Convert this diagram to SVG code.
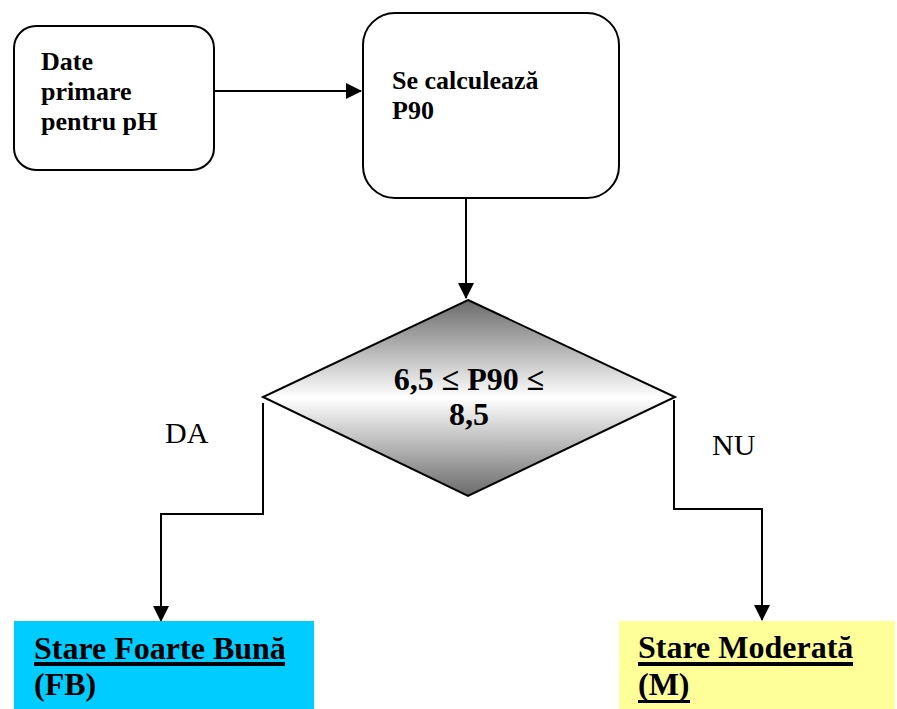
<svg xmlns="http://www.w3.org/2000/svg" width="897" height="709" viewBox="0 0 897 709">
<defs>
<linearGradient id="gd" x1="0" y1="0" x2="0" y2="1">
<stop offset="0" stop-color="#6a6a6a"/>
<stop offset="0.5" stop-color="#ffffff"/>
<stop offset="1" stop-color="#6a6a6a"/>
</linearGradient>
<marker id="ah" markerWidth="16" markerHeight="16" refX="15" refY="8" orient="auto" markerUnits="userSpaceOnUse">
<path d="M0,0 L16,8 L0,16 Z" fill="#000"/>
</marker>
<style>
.box{fill:#fff;stroke:#000;stroke-width:2}
.b{font-family:"Liberation Serif","Times New Roman",serif;font-weight:bold;fill:#000}
.r{font-family:"Liberation Serif","Times New Roman",serif;fill:#000}
.c{fill:none;stroke:#000;stroke-width:2}
.ul{fill:#000}
</style>
</defs>
<rect width="897" height="709" fill="#fff"/>
<g id="connectors">
<path class="c" d="M215,91 L361,91" marker-end="url(#ah)"/>
<path class="c" d="M466,198 L466,298" marker-end="url(#ah)"/>
<path class="c" d="M263,403 L263,514 L161,514 L161,621" marker-end="url(#ah)"/>
<path class="c" d="M674,400 L674,509 L762,509 L762,620" marker-end="url(#ah)"/>
</g>
<g id="n-date">
<rect class="box" x="14" y="26" width="200" height="144" rx="22"/>
<text class="b" font-size="26"><tspan x="41" y="70">Date</tspan><tspan x="41" y="100">primare</tspan><tspan x="41" y="130">pentru pH</tspan></text>
</g>
<g id="n-calc">
<rect class="box" x="363" y="13" width="256" height="185" rx="32"/>
<text class="b" font-size="26"><tspan x="392" y="89">Se calculează</tspan><tspan x="392" y="119">P90</tspan></text>
</g>
<g id="n-cond">
<polygon points="468,300 675,397 468,496 263,397" fill="url(#gd)" stroke="#000" stroke-width="2"/>
<text class="b" font-size="32" text-anchor="middle"><tspan x="469" y="390">6,5 ≤ P90 ≤</tspan><tspan x="469" y="425">8,5</tspan></text>
</g>
<g id="l-da">
<text class="r" font-size="30" x="165" y="443">DA</text>
</g>
<g id="l-nu">
<text class="r" font-size="30" x="712" y="455">NU</text>
</g>
<g id="n-fb">
<rect x="14" y="621" width="300" height="88" fill="#00CCFF"/>
<text class="b" font-size="32"><tspan x="34" y="659">Stare Foarte Bună</tspan><tspan x="34" y="695">(FB)</tspan></text>
<rect class="ul" x="34" y="662" width="251" height="4"/>
</g>
<g id="n-m">
<rect x="619" y="621" width="276" height="88" fill="#FFFF99"/>
<text class="b" font-size="32"><tspan x="638" y="658">Stare Moderată</tspan><tspan x="638" y="695">(M)</tspan></text>
<rect class="ul" x="638" y="662" width="215" height="4"/>
<rect class="ul" x="638" y="700" width="52" height="3"/>
</g>
</svg>
